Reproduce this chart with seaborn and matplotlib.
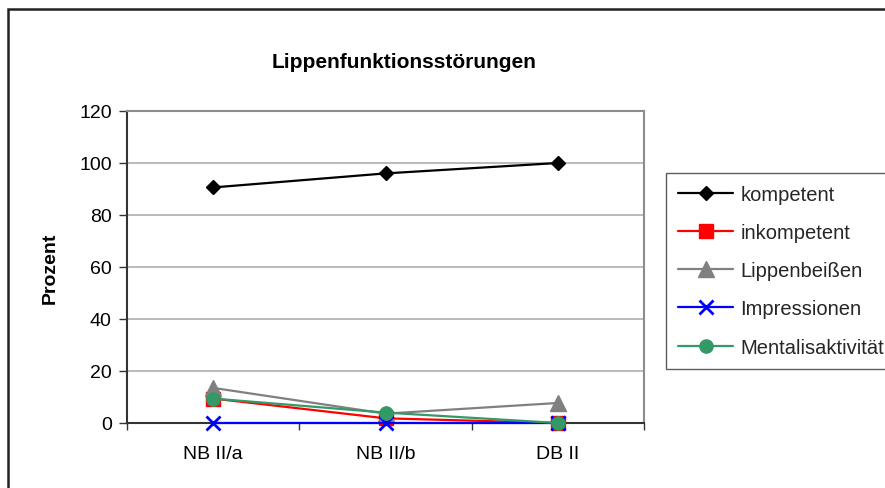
import matplotlib
matplotlib.use("Agg")
import matplotlib.pyplot as plt
import seaborn as sns
import pandas as pd
from matplotlib.patches import Rectangle
from matplotlib.ticker import FixedLocator

categories = ["NB II/a", "NB II/b", "DB II"]
kompetent = [90.6, 96.0, 100.0]
inkompetent = [9.4, 1.8, 0.0]
lippenbeissen = [13.5, 3.6, 7.7]
impressionen = [0.0, 0.0, 0.0]
mentalisaktivitaet = [9.4, 4.0, 0.0]
series_names = ["kompetent", "inkompetent", "Lippenbeißen", "Impressionen", "Mentalisaktivität"]
yticks = [0, 20, 40, 60, 80, 100, 120]

sns.set_theme(style="white")
plt.rcParams["font.family"] = ["Liberation Sans", "DejaVu Sans"]

W, H = 885, 489
fig = plt.figure(figsize=(W / 100, H / 100), dpi=100)
fig.patch.set_facecolor("white")
ax = fig.add_axes([127 / W, 1 - 424 / H, (644 - 127) / W, (424 - 112) / H])

values = [kompetent, inkompetent, lippenbeissen, impressionen, mentalisaktivitaet]
styles = [
    dict(color="black", marker="D", markersize=7.5, mfc="black", mec="black", mew=1),
    dict(color="#FF0000", marker="s", markersize=9.5, mfc="#FF0000", mec="#FF0000", mew=1),
    dict(color="#808080", marker="^", markersize=12, mfc="#808080", mec="#808080", mew=1),
    dict(color="#0000FF", marker="x", markersize=9.5, mfc="#0000FF", mec="#0000FF", mew=2),
    dict(color="#339966", marker="o", markersize=9.5, mfc="#339966", mec="#339966", mew=1),
]
xpos = list(range(len(categories)))
for i, (name, vals, st) in enumerate(zip(series_names, values, styles)):
    df = pd.DataFrame({"x": xpos, "y": vals})
    sns.lineplot(data=df, x="x", y="y", ax=ax, label=name, linewidth=1.6,
                 clip_on=False, zorder=3 + i, **st)

ax.set_xlim(-0.5, 2.5)
ax.set_ylim(0, 120)
ax.set_yticks(yticks)
ax.set_yticklabels([str(v) for v in yticks])
ax.set_xticks(xpos)
ax.set_xticklabels(categories)
ax.xaxis.set_minor_locator(FixedLocator([-0.5, 0.5, 1.5, 2.5]))
ax.tick_params(axis="x", which="major", length=0, pad=16, labelsize=14, colors="black")
ax.tick_params(axis="x", which="minor", length=5, width=1, color="#333333", direction="out", bottom=True)
ax.tick_params(axis="y", length=6, width=1, color="#333333", direction="out", left=True,
               labelsize=14, pad=5, labelcolor="black")
ax.yaxis.grid(True, color="#B4B4B4", linewidth=1.3)
ax.set_axisbelow(True)
for s in ["top", "right"]:
    ax.spines[s].set_color("#8C8C8C")
    ax.spines[s].set_linewidth(1.5)
for s in ["left", "bottom"]:
    ax.spines[s].set_color("#333333")
    ax.spines[s].set_linewidth(1.5)
ax.set_xlabel("")
ax.set_ylabel("Prozent", fontsize=14, fontweight="bold", labelpad=15, color="black")

fig.text(404 / W, 1 - 62 / H, "Lippenfunktionsstörungen", ha="center", va="center",
         fontsize=15, fontweight="bold", color="black")

handles, labels = ax.get_legend_handles_labels()
ax.get_legend().remove()
leg = fig.legend(handles, labels, loc="upper left", bbox_to_anchor=(666 / W, 1 - 174 / H),
                 bbox_transform=fig.transFigure, frameon=True, fancybox=False,
                 fontsize=14.5, handlelength=2.75, handletextpad=0.35, labelspacing=0.95,
                 borderpad=0.6, borderaxespad=0)
leg.get_frame().set_edgecolor("#333333")
leg.get_frame().set_linewidth(1.0)

fig.add_artist(Rectangle((8 / W, -0.1), 1.2, 1 - 10 / H + 0.1, fill=False,
                         edgecolor="#222222", linewidth=1.8, transform=fig.transFigure))

fig.savefig("out.png", dpi=100, facecolor="white")
